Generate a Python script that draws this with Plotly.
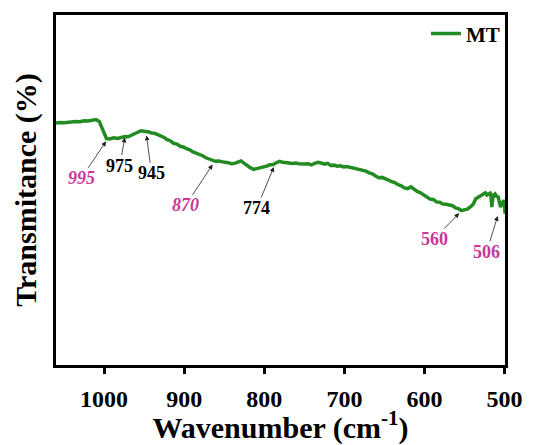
import plotly.graph_objects as go

# Spectrum data (wavenumber in cm^-1, transmittance in arbitrary units)
wavenumber = [1060, 1055, 1050, 1045, 1040, 1035, 1030, 1025, 1020, 1015, 1010, 1006, 1003, 1000,
              997, 993, 988, 983, 978, 974, 970, 966, 962, 958, 954, 950, 947, 944, 941, 937,
              933, 929, 925, 921, 917, 913, 909, 905, 901, 897, 893, 889, 885, 881, 877, 873,
              869, 865, 861, 857, 853, 849, 845, 841, 837, 833, 829, 825, 821, 817, 813, 809,
              805, 801, 797, 793, 789, 785, 781, 777, 773, 769, 765, 761, 757, 753, 749, 745,
              741, 737, 733, 729, 725, 721, 717, 713, 709, 705, 701, 697, 693, 689, 685, 681,
              677, 673, 669, 665, 661, 657, 653, 649, 645, 641, 637, 633, 629, 625, 621, 617,
              613, 609, 605, 601, 597, 593, 589, 585, 581, 577, 573, 569, 565, 561, 557, 554,
              550, 546, 542, 539, 536, 533, 530, 527, 524, 522, 520, 518, 517, 516, 515, 513.5,
              512, 510, 508, 506, 505, 503.5, 502.5, 501, 500, 499.5]
transmittance = [69.1, 69.3, 69.2, 69.4, 69.5, 69.6, 69.5, 69.8, 69.7, 70.0, 70.1, 69.6, 68.0, 66.3,
                 64.7, 64.6, 64.9, 64.7, 64.9, 65.3, 65.2, 65.7, 66.1, 66.5, 66.9, 66.8, 66.5, 66.6, 66.3, 66.2,
                 65.8, 65.5, 65.0, 64.4, 64.0, 63.3, 63.1, 62.5, 62.3, 61.8, 61.5, 60.9, 60.6, 60.1, 59.8, 59.2,
                 58.8, 58.5, 58.2, 58.3, 58.0, 57.9, 57.8, 57.5, 57.6, 58.0, 58.3, 57.6, 56.9, 56.3, 55.9, 56.1,
                 56.2, 56.6, 56.8, 57.2, 57.3, 57.8, 58.2, 57.9, 57.9, 57.7, 57.6, 57.7, 57.5, 57.4, 57.4, 57.5,
                 57.2, 57.6, 57.9, 57.7, 57.4, 57.6, 57.0, 57.1, 56.8, 56.9, 56.6, 56.7, 56.5, 56.4, 56.2, 56.0,
                 55.7, 55.4, 54.9, 54.6, 54.0, 53.5, 53.6, 53.3, 52.8, 52.4, 52.1, 51.5, 51.2, 50.6, 50.4, 50.9,
                 50.2, 49.6, 49.2, 48.5, 48.1, 47.4, 47.3, 46.6, 46.5, 46.0, 45.9, 45.6, 45.5, 44.9, 44.6, 44.1,
                 44.3, 44.6, 45.3, 46.0, 47.5, 47.9, 48.5, 48.8, 49.2, 48.6, 48.8, 49.1, 48.5, 45.1, 47.3, 48.6,
                 48.9, 48.2, 48.0, 46.5, 45.1, 46.2, 46.8, 47.0, 46.4, 43.2]

# Peak labels
peak_labels = ["995", "975", "945", "870", "774", "560", "506"]
peak_colors = ["#c8389a", "black", "black", "#c8389a", "black", "#c8389a", "#c8389a"]
peak_italic = [True, False, False, True, False, False, False]
# arrow tip (data coords)
tip_x = [997.5, 974.1, 947, 864.5, 788, 556.7, 508.6]
tip_y = [63.9, 65.0, 65.6, 57.3, 56.6, 43.4, 42.6]
# label centre offset from tip (px)
lab_dx = [-25, -5, 5, -27, -17, -25, -11]
lab_dy = [37, 28, 38, 41, 41, 26, 36]

x_ticks = [1000, 900, 800, 700, 600, 500]

FONT = "Liberation Serif, Times New Roman, serif"
green = "#228b22"

fig = go.Figure()
fig.add_trace(go.Scatter(x=wavenumber, y=transmittance, mode="lines", name="MT",
                         line=dict(color=green, width=3.5)))

annotations = []
for i, lab in enumerate(peak_labels):
    annotations.append(dict(x=tip_x[i], y=tip_y[i], xref="x", yref="y",
                            text=("<i>%s</i>" % lab) if peak_italic[i] else lab,
                            showarrow=True, ax=lab_dx[i], ay=lab_dy[i],
                            arrowhead=2, arrowsize=1.2, arrowwidth=0.8, arrowcolor="#222",
                            borderpad=0,
                            font=dict(family=FONT, size=18, color=peak_colors[i], weight="bold")))

fig.update_layout(
    width=535, height=445,
    margin=dict(l=56, r=23, t=12, b=67),
    paper_bgcolor="white", plot_bgcolor="white",
    font=dict(family=FONT, color="black"),
    showlegend=True,
    legend=dict(x=1.0, y=1.005, xanchor="right", yanchor="top",
                bgcolor="rgba(0,0,0,0)",
                font=dict(family=FONT, size=21, weight="bold", color="black")),
    annotations=annotations,
    xaxis=dict(range=[1060, 499.5], tickvals=x_ticks, ticktext=[str(v) for v in x_ticks],
               ticks="outside", ticklen=6, tickwidth=3, tickcolor="black",
               ticklabelstandoff=4,
               showline=True, linewidth=3, linecolor="black", mirror=True,
               showgrid=False, zeroline=False,
               tickfont=dict(family=FONT, size=24, weight="bold"),
               title=dict(text="Wavenumber (cm<sup>-1</sup>)", standoff=0,
                          font=dict(family=FONT, size=30, weight="bold"))),
    yaxis=dict(range=[0, 100], showticklabels=False, ticks="",
               showline=True, linewidth=3, linecolor="black", mirror=True,
               showgrid=False, zeroline=False,
               title=dict(text="Transmitance (%)", standoff=8,
                          font=dict(family=FONT, size=30, weight="bold"))),
)

fig.write_html("out.html")
